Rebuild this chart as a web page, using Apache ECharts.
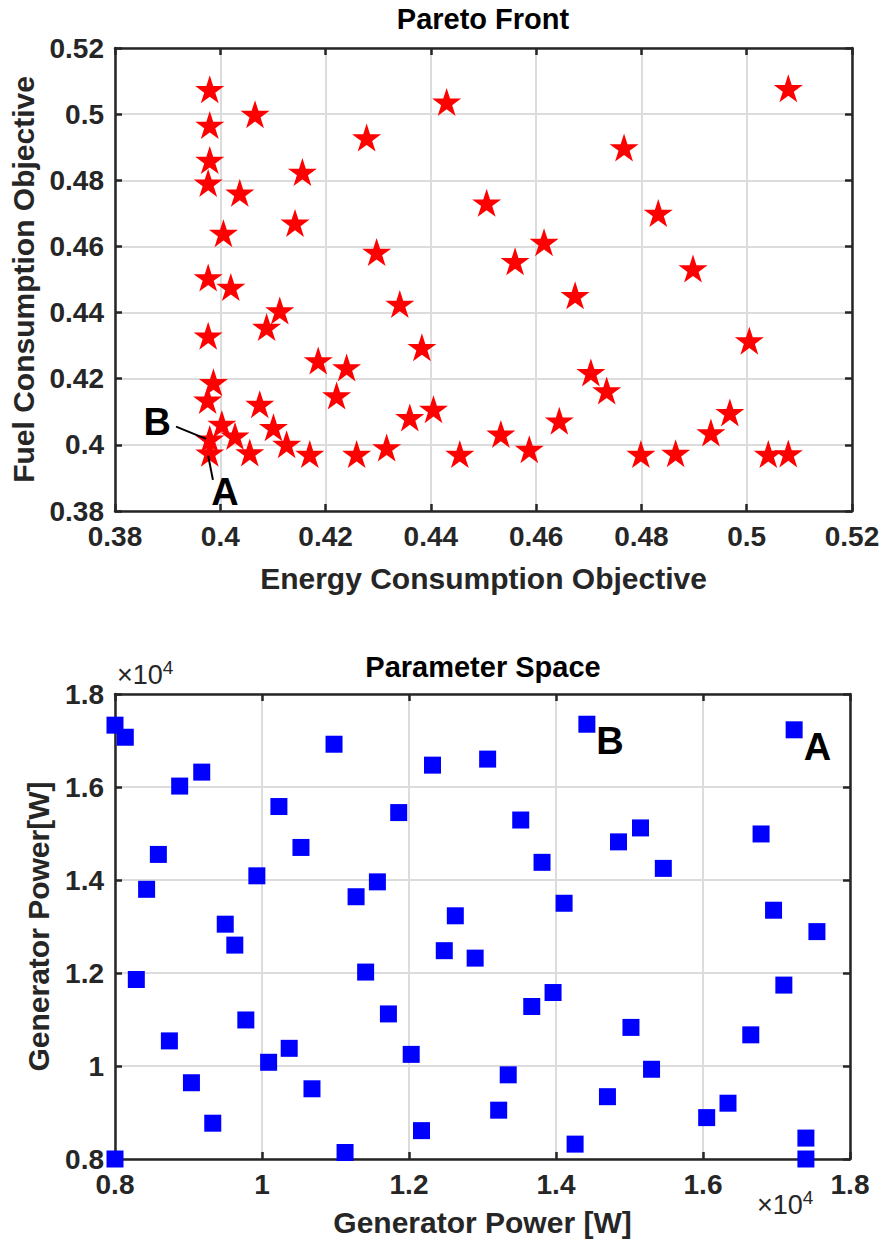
<!DOCTYPE html>
<html><head><meta charset="utf-8">
<script src="https://cdn.jsdelivr.net/npm/echarts@6/dist/echarts.min.js"></script>
<style>html,body{margin:0;padding:0;background:#fff}#c{width:886px;height:1247px}</style>
</head><body><div id="c"></div>
<script>
// ---------- Pareto front (objective space) ----------
const energyObj = [0.3980,0.4066,0.3980,0.4278,0.4430,0.3980,0.4156,0.3977,0.4037,0.4506,
  0.4142,0.4006,0.4297,0.3977,0.4020,0.3977,0.3987,0.3976,0.3980,0.3980,
  0.4003,0.4028,0.4056,0.4075,0.4088,0.4113,0.4101,0.4126,0.4170,0.4186,
  0.4240,0.4221,0.4259,0.4316,0.4341,0.4383,0.4360,0.4405,0.4455,0.4560,
  0.4898,0.4674,0.5005,0.4704,0.4734,0.4644,0.4533,0.4587,0.4799,0.4865,
  0.4932,0.4968,0.5041,0.5079,0.5079,0.4767,0.4615,0.4832];
const fuelObj = [0.5075,0.5000,0.4967,0.4929,0.5037,0.4861,0.4825,0.4792,0.4762,0.4732,
  0.4671,0.4640,0.4583,0.4506,0.4477,0.4330,0.4189,0.4136,0.4018,0.3976,
  0.4063,0.4027,0.3977,0.4123,0.4356,0.4406,0.4053,0.4002,0.3972,0.4255,
  0.4234,0.4149,0.3972,0.3992,0.4426,0.4295,0.4083,0.4108,0.3972,0.4555,
  0.4533,0.4452,0.4315,0.4219,0.4164,0.4073,0.4033,0.3987,0.3972,0.3975,
  0.4037,0.4098,0.3972,0.3974,0.5078,0.4899,0.4613,0.4701];
const paretoTicksX = [0.38, 0.52, 0.02]; // min, max, step
const paretoTicksY = [0.38, 0.52, 0.02];
// annotation texts and leader lines (data space)
const annoText = ['B', 'A'];
const annoTextX = [0.3880, 0.4009];
const annoTextY = [0.4070, 0.3858];
const annoLineX = [[0.3916, 0.3973], [0.3986, 0.3977]];
const annoLineY = [[0.4055, 0.4018], [0.3894, 0.3967]];

// ---------- Parameter space ----------
const genPower1 = [8000,8140,10980,9180,8880,12320,10230,11860,8590,10530,
  8430,9930,11570,11280,14420,17240,13070,13520,13810,14850,
  15150,15460,16790,14110,16960,9500,9630,12630,12480,12900,
  8290,11410,9780,11720,8740,10370,10090,12030,9040,10680,
  9330,12170,11130,8000,17550,13960,13670,17100,15020,16650,
  15300,13350,13220,14700,16340,16050,14260,17400,17400];
const genPower2 = [17330,17070,16920,16320,16020,16470,15580,15450,14550,14700,
  13800,14090,13960,13640,17350,17230,16600,15290,14380,14820,
  15120,14250,14990,13500,13350,13050,12600,13230,12480,12320,
  11860,12020,10990,11120,10540,10380,10080,10250,9640,9510,
  8770,8610,8140,8000,12890,11580,11280,11740,10830,10670,
  9930,9810,9050,9340,9200,8890,8320,8450,8000];
const paramTicks = [8000, 18000, 2000];
const paramLabelIndex = [14, 15];
const paramLabelText = ['B', 'A'];

const FONT = '"Liberation Sans", Arial, Helvetica, sans-serif';
const INK = '#262626';
const GRIDC = '#dcdcdc';
const STAR = 'path://M50,0 L61.2,34.5 L97.6,34.5 L68.2,55.9 L79.4,90.5 L50,69.1 L20.6,90.5 L31.8,55.9 L2.4,34.5 L38.8,34.5 Z';

const trim = v => String(+v.toFixed(4));
const fmt1e4 = v => String(+(v / 1e4).toFixed(2));

function mainAxis(dim, gridIndex, ticks, name, nameGap, fmt) {
  return {
    type: 'value', gridIndex, position: dim === 'x' ? 'bottom' : 'left',
    min: ticks[0], max: ticks[1], interval: ticks[2],
    name, nameLocation: 'middle', nameGap,
    nameTextStyle: { fontSize: 30, fontWeight: 'bold', color: INK, fontFamily: FONT },
    axisLine: { show: true, onZero: false, lineStyle: { color: INK, width: 2.5 } },
    axisTick: { show: true, inside: true, length: 7, lineStyle: { color: INK, width: 2.5 } },
    axisLabel: { fontSize: 28, fontWeight: 'bold', color: INK, fontFamily: FONT, margin: 11,
      formatter: fmt, showMinLabel: true, showMaxLabel: true },
    splitLine: { show: true, lineStyle: { color: GRIDC, width: 2 } }
  };
}
function sideAxis(dim, gridIndex, ticks) {
  return {
    type: 'value', gridIndex, position: dim === 'x' ? 'top' : 'right',
    min: ticks[0], max: ticks[1], interval: ticks[2],
    axisLine: { show: true, onZero: false, lineStyle: { color: INK, width: 2.5 } },
    axisTick: { show: true, inside: true, length: 7, lineStyle: { color: INK, width: 2.5 } },
    axisLabel: { show: false }, splitLine: { show: false }
  };
}

const starData = energyObj.map((x, i) => [x, fuelObj[i]]);
const squareData = genPower1.map((x, i) => {
  const k = paramLabelIndex.indexOf(i);
  const item = { value: [x, genPower2[i]] };
  if (k >= 0) item.label = { show: true, formatter: paramLabelText[k], position: 'right', distance: 1,
    offset: [0, 17], fontSize: 38, fontWeight: 'bold', color: '#000', fontFamily: FONT };
  return item;
});

const series = [
  { type: 'scatter', xAxisIndex: 0, yAxisIndex: 0, symbol: STAR, symbolSize: [29, 28],
    itemStyle: { color: '#ff0000', opacity: 1 }, data: starData, z: 3 },
  { type: 'scatter', xAxisIndex: 2, yAxisIndex: 2, symbol: 'rect', symbolSize: 17,
    itemStyle: { color: '#0000ff', opacity: 1 }, data: squareData, z: 3 },
  { type: 'scatter', xAxisIndex: 0, yAxisIndex: 0, symbol: 'circle', symbolSize: 1,
    itemStyle: { color: 'rgba(0,0,0,0)', opacity: 1 }, silent: true, z: 5,
    label: { show: true, position: 'inside', formatter: p => p.name, fontSize: 38, fontWeight: 'bold',
      color: '#000', fontFamily: FONT },
    data: annoText.map((t, i) => ({ name: t, value: [annoTextX[i], annoTextY[i]] })) }
];
annoLineX.forEach((xs, i) => series.push({
  type: 'line', xAxisIndex: 0, yAxisIndex: 0, symbol: 'none', silent: true, z: 4,
  lineStyle: { color: '#000', width: 2, opacity: 1 },
  data: xs.map((x, j) => [x, annoLineY[i][j]])
}));

const expRich = {
  a: { fontSize: 27, fontWeight: 'normal', color: INK, fontFamily: FONT },
  b: { fontSize: 19, fontWeight: 'normal', color: INK, fontFamily: FONT, verticalAlign: 'top', padding: [0, 0, 14, 0] }
};

const option = {
  animation: false,
  backgroundColor: '#fff',
  title: [
    { text: 'Pareto Front', left: 483, top: 4, textAlign: 'center', padding: 0,
      textStyle: { fontSize: 29, fontWeight: 'bold', color: '#000', fontFamily: FONT } },
    { text: 'Parameter Space', left: 483, top: 652, textAlign: 'center', padding: 0,
      textStyle: { fontSize: 29, fontWeight: 'bold', color: '#000', fontFamily: FONT } },
    { text: '{a|×10}{b|4}', left: 117, top: 658, padding: 0, textStyle: { fontWeight: 'normal', rich: expRich } },
    { text: '{a|×10}{b|4}', left: 757, top: 1188, padding: 0, textStyle: { fontWeight: 'normal', rich: expRich } }
  ],
  grid: [
    { left: 115, right: 34, top: 48, height: 463, containLabel: false },
    { left: 115, right: 36, top: 694, height: 465, containLabel: false }
  ],
  xAxis: [
    mainAxis('x', 0, paretoTicksX, 'Energy Consumption Objective', 52, trim),
    sideAxis('x', 0, paretoTicksX),
    mainAxis('x', 1, paramTicks, 'Generator Power [W]', 48, fmt1e4),
    sideAxis('x', 1, paramTicks)
  ],
  yAxis: [
    mainAxis('y', 0, paretoTicksY, 'Fuel Consumption Objective', 71, trim),
    sideAxis('y', 0, paretoTicksY),
    mainAxis('y', 1, paramTicks, 'Generator Power[W]', 62, fmt1e4),
    sideAxis('y', 1, paramTicks)
  ],
  series
};
const chart = echarts.init(document.getElementById('c'), null, { renderer: 'svg' });
chart.setOption(option);
</script></body></html>
